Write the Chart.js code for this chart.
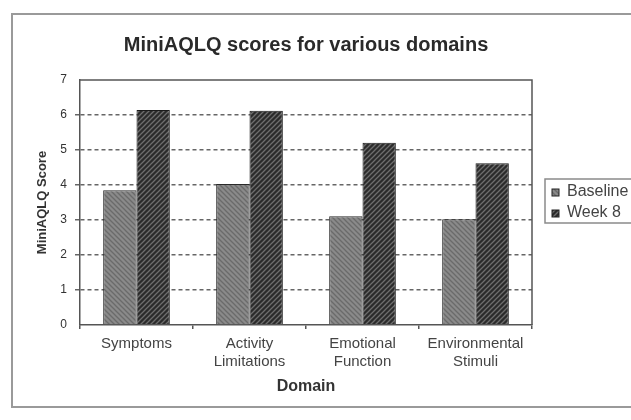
<!DOCTYPE html>
<html>
<head>
<meta charset="utf-8">
<script src="https://cdn.jsdelivr.net/npm/chart.js@4/dist/chart.umd.min.js"></script>
<style>
  html, body { margin: 0; padding: 0; background: #fff; overflow: hidden; }
  #myChart { display: block; }
</style>
</head>
<body>
<canvas id="myChart" width="631" height="420"></canvas>
<script>
const domains = [
  "Symptoms",
  ["Activity", "Limitations"],
  ["Emotional", "Function"],
  ["Environmental", "Stimuli"],
];
const seriesNames = ["Baseline", "Week 8"];
const baselineScores = [3.85, 4.03, 3.11, 3.02];
const week8Scores = [6.14, 6.12, 5.21, 4.62];
const yTicks = [0, 1, 2, 3, 4, 5, 6, 7];

// Hatch patterns for the bars
function makeHatch(bg, fg, forward) {
  const size = 5;
  const c = document.createElement("canvas");
  c.width = size;
  c.height = size;
  const g = c.getContext("2d");
  g.fillStyle = bg;
  g.fillRect(0, 0, size, size);
  g.strokeStyle = fg;
  g.lineWidth = 1.3;
  g.beginPath();
  if (forward) {
    // "/" direction
    g.moveTo(-1, size + 1); g.lineTo(size + 1, -1);
    g.moveTo(-1, 1); g.lineTo(1, -1);
    g.moveTo(size - 1, size + 1); g.lineTo(size + 1, size - 1);
  } else {
    // "\" direction
    g.moveTo(-1, -1); g.lineTo(size + 1, size + 1);
    g.moveTo(size - 1, -1); g.lineTo(size + 1, 1);
    g.moveTo(-1, size - 1); g.lineTo(1, size + 1);
  }
  g.stroke();
  return g.createPattern(c, "repeat");
}
const ctx = document.getElementById("myChart").getContext("2d");
const basePattern = makeHatch("#8a8a8a", "#6a6a6a", false);
const weekPattern = makeHatch("#2b2b2b", "#6e6e6e", true);

// Outer frame + plot frame + legend ------------------------------------
const framePlugin = {
  id: "frame",
  beforeDraw(chart) {
    const c = chart.ctx;
    c.save();
    c.fillStyle = "#fff";
    c.fillRect(0, 0, chart.width, chart.height);
    c.strokeStyle = "#9a9a9a";
    c.lineWidth = 2;
    c.strokeRect(12, 14, chart.width + 20, 393);
    c.restore();
  },
  afterDraw(chart) {
    const c = chart.ctx;
    const a = chart.chartArea;
    c.save();
    // plot border
    c.strokeStyle = "#555";
    c.lineWidth = 1.5;
    c.beginPath();
    c.moveTo(a.left, a.top);
    c.lineTo(a.right, a.top);
    c.lineTo(a.right, a.bottom);
    c.stroke();
    // legend
    const lx = 545, ly = 179, lh = 44;
    c.strokeStyle = "#8a8a8a";
    c.lineWidth = 1.5;
    c.strokeRect(lx, ly, 120, lh);
    const fills = [basePattern, weekPattern];
    c.font = "16px Arial, 'Liberation Sans', sans-serif";
    c.textBaseline = "middle";
    seriesNames.forEach((name, i) => {
      const y = ly + 13 + i * 21;
      c.fillStyle = fills[i];
      c.fillRect(552, y - 3, 7, 7);
      c.strokeStyle = "#222";
      c.lineWidth = 1;
      c.strokeRect(552, y - 3, 7, 7);
      c.fillStyle = "#444";
      c.fillText(name, 567, y);
    });
    c.restore();
  },
};

const myChart = new Chart(ctx, {
  type: "bar",
  data: {
    labels: domains,
    datasets: [
      {
        label: seriesNames[0],
        data: baselineScores,
        backgroundColor: basePattern,
        borderColor: "#2a2a2a",
        borderWidth: 1,
      },
      {
        label: seriesNames[1],
        data: week8Scores,
        backgroundColor: weekPattern,
        borderColor: "#1a1a1a",
        borderWidth: 1,
      },
    ],
  },
  options: {
    responsive: false,
    animation: false,
    devicePixelRatio: 1,
    events: [],
    layout: {
      padding: { left: 0, right: 99, top: 0, bottom: 0 },
    },
    datasets: {
      bar: {
        categoryPercentage: 0.59,
        barPercentage: 1,
      },
    },
    scales: {
      x: {
        offset: true,
        grid: {
          offset: true,
          drawOnChartArea: false,
          drawTicks: true,
          tickLength: 4,
          color: "#555",
          lineWidth: 1.5,
        },
        border: { display: true, color: "#555", width: 1.5 },
        ticks: {
          color: "#444",
          font: { family: "Arial, 'Liberation Sans', sans-serif", size: 15, lineHeight: 1.25 },
          padding: 5,
          maxRotation: 0,
          autoSkip: false,
        },
        title: {
          display: true,
          text: "Domain",
          color: "#333",
          font: { family: "Arial, 'Liberation Sans', sans-serif", size: 16, weight: "bold" },
          padding: { top: 0, bottom: 24 },
        },
        afterFit(scale) {
          scale.height = 95;
        },
      },
      y: {
        min: 0,
        max: 7,
        afterBuildTicks(scale) {
          scale.ticks = yTicks.map((v) => ({ value: v }));
        },
        grid: {
          drawTicks: true,
          tickLength: 5,
          color: (c) => (c.tick && (c.tick.value === 0 || c.tick.value === 7) ? "rgba(0,0,0,0)" : "#666"),
          lineWidth: 1.5,
        },
        border: { display: true, color: "#555", width: 1.5, dash: [4, 3] },
        ticks: {
          color: "#333",
          font: { family: "Arial, 'Liberation Sans', sans-serif", size: 12 },
          padding: 8,
        },
        title: {
          display: true,
          text: "MiniAQLQ Score",
          color: "#333",
          font: { family: "Arial, 'Liberation Sans', sans-serif", size: 13, weight: "bold" },
          padding: { top: 35, bottom: 0 },
        },
        afterFit(scale) {
          scale.width = 80;
        },
      },
    },
    plugins: {
      legend: { display: false },
      tooltip: { enabled: false },
      title: {
        display: true,
        fullSize: false,
        text: "MiniAQLQ scores for various domains",
        color: "#2a2a2a",
        font: { family: "Arial, 'Liberation Sans', sans-serif", size: 20, weight: "bold" },
        padding: { top: 33, bottom: 23 },
      },
    },
  },
  plugins: [framePlugin],
});
</script>
</body>
</html>
